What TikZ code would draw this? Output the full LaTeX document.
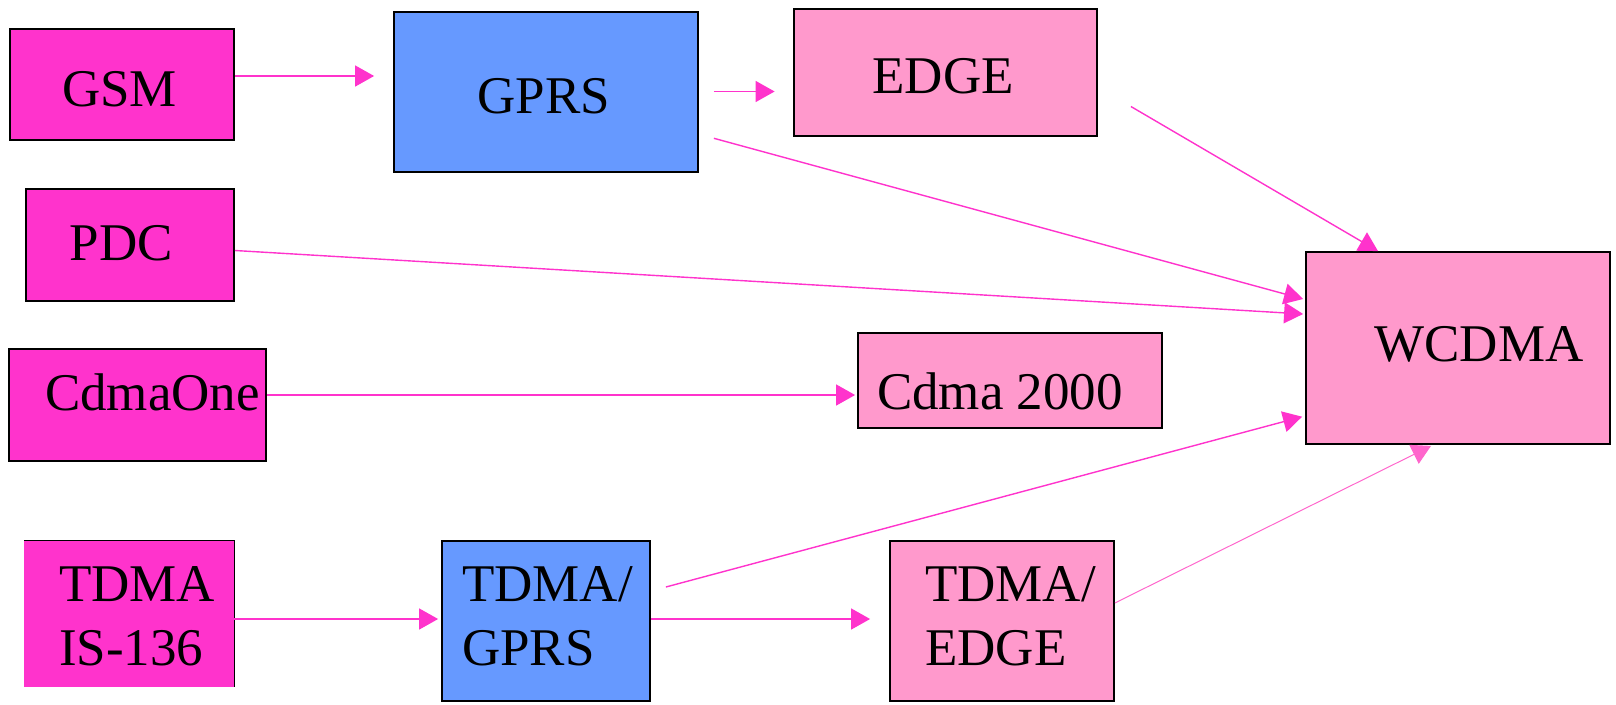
\documentclass[tikz,border=0pt]{standalone}
\usepackage{fontspec}
\setmainfont{Liberation Serif}
\usetikzlibrary{arrows.meta,calc}

\definecolor{firstpink}{HTML}{FF33CC}
\definecolor{midblue}{HTML}{6699FF}
\definecolor{nextpink}{HTML}{FF99CC}
\definecolor{linkpink}{HTML}{FF33CC}
\definecolor{softlink}{HTML}{FF66CC}

\tikzset{
  sysbox/.style={draw=black, line width=1.8pt, inner sep=0pt},
  firstgen/.style={sysbox, fill=firstpink},
  midgen/.style={sysbox, fill=midblue},
  nextgen/.style={sysbox, fill=nextpink},
  sysname/.style={font=\fontsize{53}{64}\selectfont, inner sep=0pt, align=left},
  link/.style={draw=linkpink, line width=1.4pt, -{Triangle[length=19pt,width=21pt]}}
}

\begin{document}
\begin{tikzpicture}[x=1pt,y=-1pt]
    \useasboundingbox (0,0) rectangle (1616,704);

    % Left column
    \node[firstgen, minimum width=224pt, minimum height=111pt] (gsm) at (122,84.5) {};
    \node[firstgen, minimum width=208pt, minimum height=112pt] (pdc) at (130,245) {};
    \node[firstgen, minimum width=257pt, minimum height=112pt] (cdmaone) at (137.5,405) {};
    \node[fill=firstpink, inner sep=0pt, minimum width=210pt, minimum height=146pt] (tdma) at (129,614) {};
    \draw[line width=1pt] (tdma.north west) -- (tdma.north east) -- (tdma.south east);

    % Middle boxes
    \node[midgen, minimum width=304pt, minimum height=160pt] (gprs) at (546,92) {};
    \node[nextgen, minimum width=303pt, minimum height=127pt] (edge) at (945.5,72.5) {};
    \node[nextgen, minimum width=304pt, minimum height=95pt] (cdmatwok) at (1010,380.5) {};
    \node[midgen, minimum width=208pt, minimum height=160pt] (tdmagprs) at (546,621) {};
    \node[nextgen, minimum width=224pt, minimum height=160pt] (tdmaedge) at (1002,621) {};

    % Target
    \node[nextgen, minimum width=304pt, minimum height=192pt] (wcdma) at (1458,348) {};

    % Labels (two-line labels sit on their last baseline)
    \node[sysname, anchor=base] (gsmname) at (119.5,106) {GSM};
    \node[sysname, anchor=base] (pdcname) at (121.5,260) {PDC};
    \node[sysname, anchor=base] (cdmaonename) at (152.5,410) {CdmaOne};
    \node[sysname, anchor=base west] (tdmaname) at (59,665.7) {TDMA\\IS-136};
    \node[sysname, anchor=base] (gprsname) at (543.6,113) {GPRS};
    \node[sysname, anchor=base] (edgename) at (943,93) {EDGE};
    \node[sysname, anchor=base] (cdmatwokname) at (1000,409) {Cdma 2000};
    \node[sysname, anchor=base west] (tdmagprsname) at (462,665.7) {TDMA/\\GPRS};
    \node[sysname, anchor=base west] (tdmaedgename) at (925,665.7) {TDMA/\\EDGE};
    \node[sysname, anchor=base] (wcdmaname) at (1479,361) {WCDMA};

    % Evolution paths
    \draw[link] ($(gsm.east)+(0,-8.5)$) -- ($(gprs.west)+(-19,-16)$);
    \draw[link] ($(gprs.east)+(15,-0.5)$) -- ($(edge.west)+(-18.5,19)$);
    \draw[link] ($(gprs.east)+(15,46.3)$) -- ($(wcdma.west)+(-2,-49)$);
    \draw[link] ($(pdc.east)+(0,5.5)$) -- ($(wcdma.west)+(-2,-34)$);
    \draw[link] ($(edge.east)+(33,34)$) -- ($(wcdma.north)+(-80,0)$);
    \draw[link] ($(cdmaone.east)+(0,-10)$) -- ($(cdmatwok.west)+(-2,14.5)$);
    \draw[link] ($(tdmagprs.east)+(15,-34)$) -- ($(wcdma.west)+(-3,68.7)$);
    \draw[link] ($(tdma.east)+(0,5)$) -- ($(tdmagprs.west)+(-3,-2)$);
    \draw[link] ($(tdmagprs.east)+(0,-2)$) -- ($(tdmaedge.west)+(-19,-2)$);
    \draw[link, draw=softlink, line width=1pt] ($(tdmaedge.east)+(0,-18)$) -- ($(wcdma.south)+(-27,1)$);

\end{tikzpicture}
\end{document}
